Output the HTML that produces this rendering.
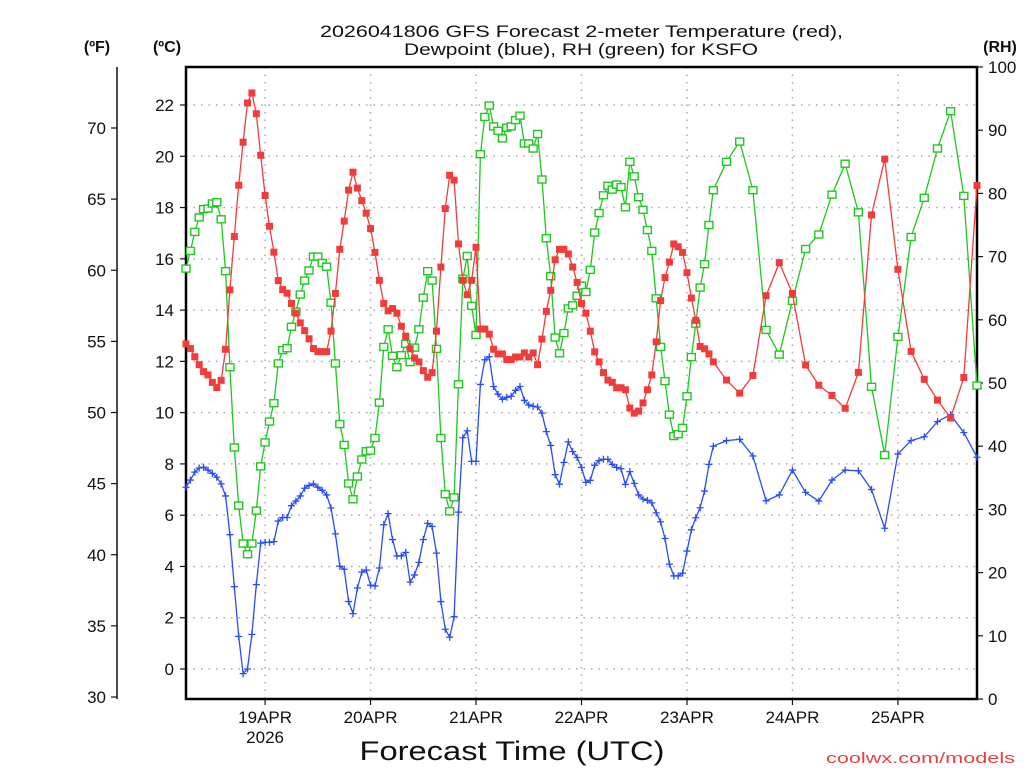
<!DOCTYPE html>
<html><head><meta charset="utf-8"><style>
html,body{margin:0;padding:0;background:#fff;width:1024px;height:768px;overflow:hidden}
svg{display:block}
text{font-family:"Liberation Sans",sans-serif;fill:#111}
</style></head><body>
<svg id="chart" width="1024" height="768" viewBox="0 0 1024 768" xmlns="http://www.w3.org/2000/svg">
<g>
<text x="320" y="37" font-size="17" textLength="523" lengthAdjust="spacingAndGlyphs">2026041806 GFS Forecast 2-meter Temperature (red),</text>
<text x="404" y="55" font-size="17" textLength="354" lengthAdjust="spacingAndGlyphs">Dewpoint (blue), RH (green) for KSFO</text>
</g>
<text x="97" y="52" font-size="16" font-weight="bold" text-anchor="middle">(ºF)</text>
<text x="167" y="52" font-size="16" font-weight="bold" text-anchor="middle">(ºC)</text>
<text x="1000" y="52" font-size="16" font-weight="bold" text-anchor="middle">(RH)</text>
<text x="512" y="760" font-size="27" text-anchor="middle" textLength="305" lengthAdjust="spacingAndGlyphs">Forecast Time (UTC)</text>
<text x="1015" y="763" font-size="15" text-anchor="end" style="fill:#e84040" textLength="189" lengthAdjust="spacingAndGlyphs">coolwx.com/models</text>
<g id="grid"></g>
<g id="axes"></g>
<g id="series"></g>
</svg>
<script>
const tempC = [12.68,12.5,12.18,11.87,11.6,11.47,11.18,10.98,11.26,12.47,14.79,16.87,18.87,20.55,22.08,22.47,21.66,20.04,18.47,17.27,16.26,15.15,14.8,14.66,14.26,13.88,13.5,13.2,12.88,12.5,12.38,12.38,12.38,13.18,14.65,16.37,17.47,18.68,19.38,18.76,18.27,17.78,17.18,16.25,15.16,
14.26,13.97,14.06,13.88,13.37,12.98,12.49,12.13,11.98,11.64,11.38,11.56,13.18,15.68,17.96,19.26,19.07,16.58,15.16,14.6,15.16,16.45,13.26,13.26,13.06,12.47,12.29,12.29,12.07,12.07,12.17,12.17,12.33,12.17,12.33,11.87,12.87,13.95,14.77,15.96,16.37,16.37,16.19,15.68,15.08,
14.26,13.88,13.18,12.37,11.98,11.56,11.27,11.18,10.97,10.97,10.89,10.18,9.98,10.06,10.38,10.89,11.47,12.76,14.37,15.27,15.87,16.58,16.47,16.25,15.46,14.47,13.6,12.58,12.49,12.29,11.98,
11.27,10.76,11.45,14.56,15.85,14.65,11.86,11.07,10.67,10.17,11.57,17.71,19.89,15.59,12.39,11.3,10.49,9.79,11.37,18.86];
const dewC = [7.09,7.37,7.68,7.84,7.87,7.76,7.63,7.48,7.22,6.75,5.24,3.21,1.27,-0.18,0,1.35,3.29,4.91,4.94,4.94,4.97,5.77,5.91,5.91,6.37,6.55,6.75,7.05,7.16,7.22,7.09,6.97,6.79,6.28,5.27,4.01,3.89,2.63,2.16,3.16,3.78,3.86,3.27,3.24,3.94,
5.63,6.06,5.05,4.41,4.41,4.55,3.39,3.67,4.16,5.05,5.68,5.56,4.52,2.63,1.55,1.24,2.04,6.12,9.02,9.29,8.1,8.1,11.1,12.06,12.18,11.02,10.72,10.52,10.6,10.64,10.87,11.02,10.48,10.3,10.25,10.22,9.98,9.26,8.72,7.58,7.21,8.06,8.86,8.48,8.25,
7.86,7.28,7.36,7.95,8.13,8.18,8.18,7.98,7.86,7.81,7.2,7.7,7.24,6.79,6.63,6.58,6.48,6.09,5.74,5.09,4.09,3.63,3.63,3.74,4.6,5.43,5.9,6.29,6.94,7.98,8.69,
8.91,8.96,8.31,6.56,6.79,7.76,6.89,6.55,7.37,7.76,7.73,7.0,5.49,8.39,8.91,9.06,9.65,9.92,9.22,8.26];
const rhPct = [68.1,70.9,73.9,76.2,77.5,77.6,78.4,78.6,75.9,67.7,52.5,39.8,30.6,24.6,22.9,24.6,29.8,36.8,40.6,43.9,46.8,53.1,55.2,55.5,58.9,61.3,64,66.2,67.8,70,70,69,68.4,62.7,53.1,43.5,40.2,34.1,31.6,35.2,37.9,39.2,39.3,41.3,46.9,
55.7,58.5,54.3,52.5,54.4,56.2,53.3,55.6,58.5,63.5,67.7,66.2,55.4,41.3,32.4,29.7,31.9,49.8,66.5,70.1,62.2,57.6,86.2,92.1,93.9,90.6,89.9,88.7,90.4,90.6,91.6,92.3,87.9,87.9,87.1,89.4,82.2,72.9,66.9,57.2,54.7,57.9,61.8,62.3,63.8,
65.4,64.4,67.9,73.8,76.9,79.7,81.2,80.6,81.4,81,77.8,85,82.7,79.4,77.4,74.2,70.9,63.4,55.7,50.3,45,41.6,41.9,42.9,47.9,54.1,59.4,65.1,68.8,75,80.5,
85.0,88.2,80.5,58.4,54.5,63,71.2,73.5,79.8,84.7,77,49.4,38.6,57.3,73.1,79.3,87.1,93,79.6,49.6];
const dayLabels = ["19APR","20APR","21APR","22APR","23APR","24APR","25APR"];
const dayHours = [18,42,66,90,114,138,162];
const cTicks = [0,2,4,6,8,10,12,14,16,18,20,22];
const fTicks = [30,35,40,45,50,55,60,65,70];
const rhTicks = [0,10,20,30,40,50,60,70,80,90,100];
// forecast hours: hourly to 120, then 3-hourly to 180
const hours = [];
for (let h = 0; h <= 120; h++) hours.push(h);
for (let h = 123; h <= 180; h += 3) hours.push(h);

const L=186,R=977,T=67,B=699;
const xH = h => L + h*(R-L)/180;
const yC = c => 669 - c*25.636;
const yF = f => 697 - (f-30)*14.225;
const yRH = r => B - r*(B-T)/100;
const NS="http://www.w3.org/2000/svg";
function mk(tag, attrs, parent){const e=document.createElementNS(NS,tag);for(const k in attrs)e.setAttribute(k,attrs[k]);parent.appendChild(e);return e;}
const grid=document.getElementById('grid'), axes=document.getElementById('axes'), ser=document.getElementById('series');

cTicks.forEach(c=>{
  const g=mk('line',{x1:L,x2:R,y1:yC(c),y2:yC(c),stroke:'#aaa','stroke-width':1.5,'stroke-dasharray':'1.5 6'},grid);
  
  
  const t=mk('line',{x1:L-6,x2:L,y1:yC(c),y2:yC(c),stroke:'#111','stroke-width':1.2},axes);
  
  
  const tx=mk('text',{x:L-12,y:yC(c)+6,'font-size':17,'text-anchor':'end'},axes);
  tx.textContent=c;
  
  
});
dayHours.forEach((h,i)=>{
  const x=xH(h);
  const g=mk('line',{x1:x,x2:x,y1:T,y2:B,stroke:'#aaa','stroke-width':1.5,'stroke-dasharray':'1.5 6'},grid);
  
  
  const t=mk('line',{x1:x,x2:x,y1:B,y2:B+6,stroke:'#111','stroke-width':1.2},axes);
  
  
  const tx=mk('text',{x:x,y:723,'font-size':17,'text-anchor':'middle'},axes);
  tx.textContent=dayLabels[i];
  
  
});
const yr=mk('text',{x:xH(dayHours[0]),y:743,'font-size':17,'text-anchor':'middle'},axes);
yr.textContent='2026';


// frame
const fr=mk('path',{d:`M${L},${T}H${R}V${B}H${L}Z`,fill:'none',stroke:'#000','stroke-width':2.5},axes);


// F axis
const fa=mk('line',{x1:117,x2:117,y1:T,y2:B,stroke:'#111','stroke-width':1.5},axes);


fTicks.forEach(f=>{
  const t=mk('line',{x1:111,x2:117,y1:yF(f),y2:yF(f),stroke:'#111','stroke-width':1.2},axes);
  
  
  const tx=mk('text',{x:106,y:yF(f)+6,'font-size':17,'text-anchor':'end'},axes);
  tx.textContent=f;
  
  
});
rhTicks.forEach(r=>{
  const t=mk('line',{x1:R,x2:R+6,y1:yRH(r),y2:yRH(r),stroke:'#111','stroke-width':1.2},axes);
  
  
  const tx=mk('text',{x:988,y:yRH(r)+6,'font-size':17,'text-anchor':'start'},axes);
  tx.textContent=r;
  
  
});

function series(vals, yf, color, name, marker){
  const g=mk('g',{},ser);
  
  
  const pts=vals.map((v,i)=>xH(hours[i]).toFixed(1)+','+yf(v).toFixed(1)).join(' ');
  const pl=mk('polyline',{points:pts,fill:'none',stroke:color,'stroke-width':1.3},g);
  
  
  vals.forEach((v,i)=>{
    const x=xH(hours[i]), y=yf(v); let m;
    if(marker==='fill') m=mk('rect',{x:x-3.5,y:y-3.5,width:7,height:7,fill:color},g);
    else if(marker==='open') m=mk('rect',{x:x-4,y:y-3.5,width:8,height:7,fill:'#fff',stroke:color,'stroke-width':1.4},g);
    else m=mk('path',{d:`M${x-3.5},${y}H${x+3.5}M${x},${y-3.5}V${y+3.5}`,stroke:color,'stroke-width':1.3},g);
    
    
  });
}
series(rhPct, yRH, '#1ec81e', 'rh', 'open');
series(dewC, yC, '#2a4cf5', 'dewpoint', 'plus');
series(tempC, yC, '#f23c3c', 'temperature', 'fill');
</script>
</body></html>
